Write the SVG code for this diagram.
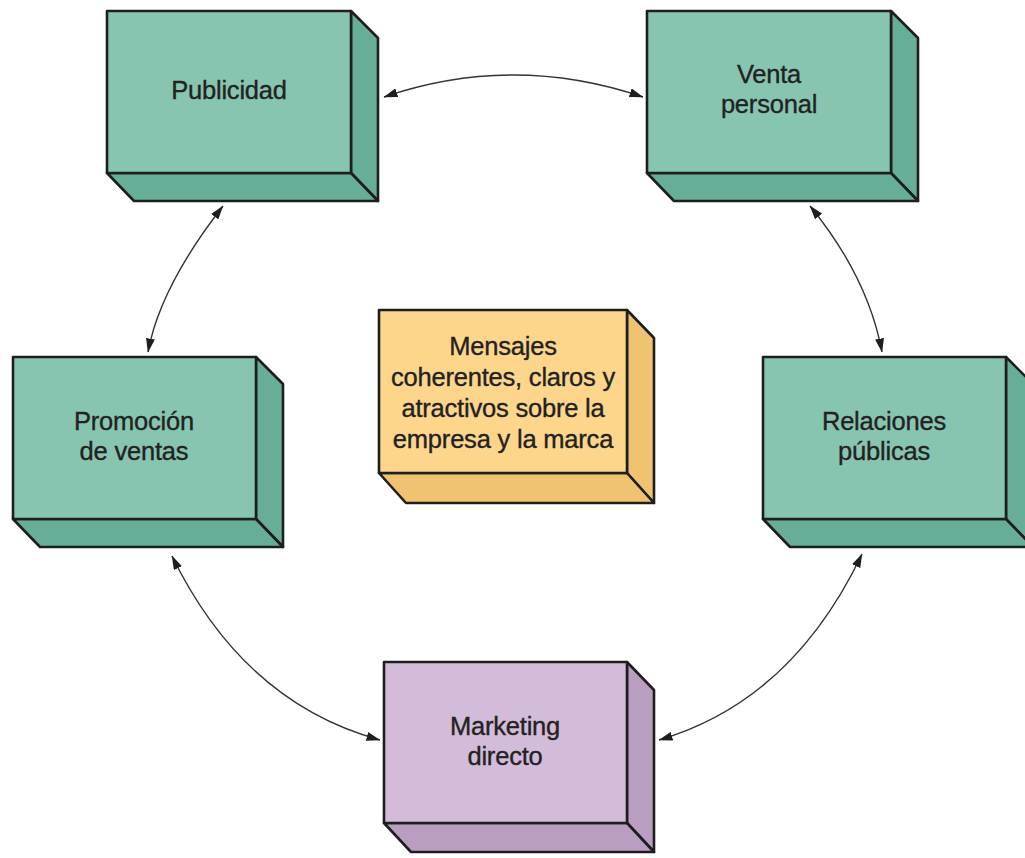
<svg xmlns="http://www.w3.org/2000/svg" width="1025" height="858" viewBox="0 0 1025 858">
  <defs>
    <style>
      .front { stroke: #1e1e1e; stroke-width: 2.6; stroke-linejoin: round; }
      .face { stroke: #1e1e1e; stroke-width: 2.6; stroke-linejoin: round; }
      .teal .front { fill: #88C5B1; }
      .teal .face { fill: #66AE98; }
      .gold .front { fill: #FDD68B; }
      .gold .face { fill: #F0C371; }
      .lilac .front { fill: #D3BCD9; }
      .lilac .face { fill: #B99EC1; }
      .label { font-family: "Liberation Sans", Arial, sans-serif; font-size: 25.5px; fill: #222; stroke: #222; stroke-width: 0.35; letter-spacing: -0.2px; text-anchor: middle; }
      .link { fill: none; stroke: #333; stroke-width: 1.4; marker-start: url(#tip); marker-end: url(#tip); }
    </style>
    <marker id="tip" viewBox="0 0 14 9" refX="13.5" refY="4.5" markerWidth="14" markerHeight="9" markerUnits="userSpaceOnUse" orient="auto-start-reverse">
      <path d="M0,0 L14,4.5 L0,9 Z" fill="#1e1e1e"/>
    </marker>
  </defs>

  <rect width="1025" height="858" fill="#ffffff"/>

  <!-- connectors between the promotion tools -->
  <g id="connectors">
    <path class="link" d="M384,97 Q513,53 643,97"/>
    <path class="link" d="M223,206 Q160,287 148,352"/>
    <path class="link" d="M810,206 Q868,277 882,352"/>
    <path class="link" d="M172,556 Q244,703 380,740"/>
    <path class="link" d="M862,554 Q792,701 659,740"/>
  </g>

  <!-- Publicidad -->
  <g id="publicidad" class="teal">
    <polygon class="face" points="351,11 378,38 378,201 351,173"/>
    <polygon class="face" points="107,173 351,173 378,201 134,201"/>
    <rect class="front" x="107" y="11" width="244" height="162"/>
    <text class="label" x="229" y="99">Publicidad</text>
  </g>

  <!-- Venta personal -->
  <g id="venta-personal" class="teal">
    <polygon class="face" points="891,11 918,38 918,201 891,173"/>
    <polygon class="face" points="647,173 891,173 918,201 674,201"/>
    <rect class="front" x="647" y="11" width="244" height="162"/>
    <text class="label" x="769" y="83">Venta</text>
    <text class="label" x="769" y="113">personal</text>
  </g>

  <!-- Promoción de ventas -->
  <g id="promocion-ventas" class="teal">
    <polygon class="face" points="256,357 283,384 283,547 256,519"/>
    <polygon class="face" points="13,519 256,519 283,547 40,547"/>
    <rect class="front" x="13" y="357" width="243" height="162"/>
    <text class="label" x="134" y="430">Promoción</text>
    <text class="label" x="134" y="460">de ventas</text>
  </g>

  <!-- Relaciones públicas -->
  <g id="relaciones-publicas" class="teal">
    <polygon class="face" points="1006,357 1033,384 1033,547 1006,519"/>
    <polygon class="face" points="763,519 1006,519 1033,547 790,547"/>
    <rect class="front" x="763" y="357" width="243" height="162"/>
    <text class="label" x="884" y="430">Relaciones</text>
    <text class="label" x="884" y="460">públicas</text>
  </g>

  <!-- central message -->
  <g id="mensajes" class="gold">
    <polygon class="face" points="627,310 654,338 654,503 627,473"/>
    <polygon class="face" points="379,473 627,473 654,503 406,503"/>
    <rect class="front" x="379" y="310" width="248" height="163"/>
    <text class="label" x="503" y="355">Mensajes</text>
    <text class="label" x="503" y="386">coherentes, claros y</text>
    <text class="label" x="503" y="417">atractivos sobre la</text>
    <text class="label" x="503" y="448">empresa y la marca</text>
  </g>

  <!-- Marketing directo -->
  <g id="marketing-directo" class="lilac">
    <polygon class="face" points="627,662 654,690 654,852 627,823"/>
    <polygon class="face" points="384,823 627,823 654,852 411,852"/>
    <rect class="front" x="384" y="662" width="243" height="161"/>
    <text class="label" x="505" y="735">Marketing</text>
    <text class="label" x="505" y="765">directo</text>
  </g>
</svg>
